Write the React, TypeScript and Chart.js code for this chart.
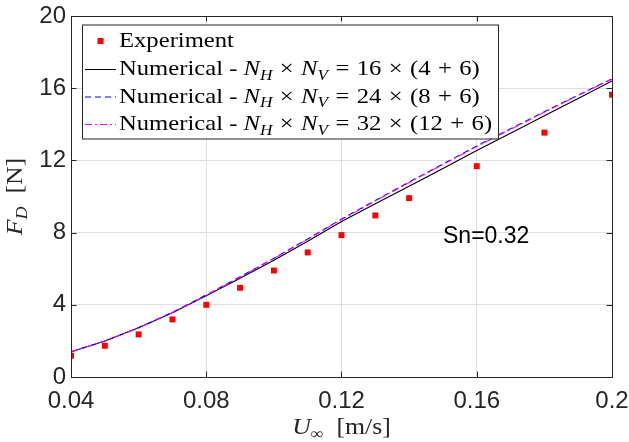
import React, { useEffect, useRef } from "react";
import { Chart, registerables } from "chart.js";

Chart.register(...registerables);

// ---- data ----
const expU = [0.04, 0.05, 0.06, 0.07, 0.08, 0.09, 0.1, 0.11, 0.12, 0.13, 0.14, 0.16, 0.18, 0.2];
const expF = [1.18, 1.73, 2.36, 3.19, 4.0, 4.94, 5.9, 6.9, 7.86, 8.95, 9.91, 11.68, 13.54, 15.64];

const numU = [0.04, 0.05, 0.06, 0.07, 0.08, 0.09, 0.1, 0.11, 0.12, 0.13, 0.14, 0.15, 0.16, 0.17, 0.18, 0.19, 0.2];
const numF16 = [1.4, 1.99, 2.73, 3.56, 4.5, 5.47, 6.47, 7.52, 8.62, 9.6, 10.57, 11.55, 12.55, 13.5, 14.47, 15.43, 16.4];
const numF24 = [1.4, 1.99, 2.74, 3.58, 4.55, 5.55, 6.58, 7.65, 8.75, 9.78, 10.8, 11.8, 12.8, 13.75, 14.7, 15.62, 16.52];
const numF32 = [1.4, 1.99, 2.73, 3.57, 4.53, 5.53, 6.56, 7.63, 8.72, 9.75, 10.77, 11.77, 12.77, 13.72, 14.67, 15.6, 16.5];

const xTickValues = [0.04, 0.08, 0.12, 0.16, 0.2];
const xTickLabels = ["0.04", "0.08", "0.12", "0.16", "0.2"];
const yTickValues = [0, 4, 8, 12, 16, 20];
const yTickLabels = ["0", "4", "8", "12", "16", "20"];

const legendExperiment = "Experiment";
const legendPrefix = "Numerical - ";
const legendMeshA = ["16", "24", "32"];
const legendMeshB = ["4", "8", "12"];
const legendMeshC = "6";
const annotationText = "Sn=0.32";

const SERIF = "'Liberation Serif', 'Times New Roman', serif";
const SANS = "'Liberation Sans', Arial, sans-serif";
const AXIS_COLOR = "#262626";

type Seg = { t: string; it?: boolean; sub?: boolean; pad?: number };

function drawSegs(ctx: CanvasRenderingContext2D, segs: Seg[], x: number, y: number, size: number, sx: number, align: "left" | "center" = "left") {
  ctx.save();
  ctx.textBaseline = "alphabetic";
  ctx.textAlign = "left";
  let w = 0;
  for (const s of segs) {
    const fs = s.sub ? size * 0.7 : size;
    ctx.font = `${s.it ? "italic " : ""}${fs}px ${SERIF}`;
    w += ctx.measureText(s.t).width + 2 * (s.pad || 0) * size;
  }
  ctx.translate(x, y);
  ctx.scale(sx, 1);
  let cx = align === "center" ? -w / 2 : 0;
  for (const s of segs) {
    const fs = s.sub ? size * 0.7 : size;
    ctx.font = `${s.it ? "italic " : ""}${fs}px ${SERIF}`;
    cx += (s.pad || 0) * size;
    ctx.fillText(s.t, cx, s.sub ? size * 0.22 : 0);
    cx += ctx.measureText(s.t).width + (s.pad || 0) * size;
  }
  ctx.restore();
}

const OP = 0.3;

const decorPlugin = {
  id: "decor",
  afterDraw(chart: any) {
    const ctx: CanvasRenderingContext2D = chart.ctx;
    const { left, right, top, bottom } = chart.chartArea;
    const xs = chart.scales.x;
    const ys = chart.scales.y;
    ctx.save();
    // box
    ctx.strokeStyle = AXIS_COLOR;
    ctx.lineWidth = 1;
    ctx.strokeRect(Math.round(left) + 0.5, Math.round(top) + 0.5, Math.round(right - left), Math.round(bottom - top));
    // inward ticks
    const tl = 5.5;
    ctx.beginPath();
    for (const v of xTickValues) {
      const px = Math.round(xs.getPixelForValue(v)) + 0.5;
      ctx.moveTo(px, bottom);
      ctx.lineTo(px, bottom - tl);
      ctx.moveTo(px, top);
      ctx.lineTo(px, top + tl);
    }
    for (const v of yTickValues) {
      const py = Math.round(ys.getPixelForValue(v)) + 0.5;
      ctx.moveTo(left, py);
      ctx.lineTo(left + tl, py);
      ctx.moveTo(right, py);
      ctx.lineTo(right - tl, py);
    }
    ctx.stroke();

    // annotation
    ctx.fillStyle = "#000";
    ctx.font = `23px ${SANS}`;
    ctx.textBaseline = "alphabetic";
    ctx.textAlign = "left";
    ctx.fillText(annotationText, 443, 243);

    // legend
    const lx = 82, ly = 24.5, lw = 416, lh = 114;
    ctx.fillStyle = "#fff";
    ctx.fillRect(lx, ly, lw, lh);
    ctx.strokeStyle = AXIS_COLOR;
    ctx.lineWidth = 1;
    ctx.strokeRect(lx + 0.5, ly + 0.5, lw, lh);
    const rowY = [41, 69, 96.5, 124];
    const textX = 119;
    const size = 22;
    const sx = 1.12;
    ctx.fillStyle = "#ff0000";
    ctx.fillRect(97.5, rowY[0] - 3, 6, 6);
    ctx.fillStyle = "#000";
    drawSegs(ctx, [{ t: legendExperiment }], textX, rowY[0] + 6, size, sx);
    const styles = [
      { c: "#000000", d: [] as number[] },
      { c: "#0000ff", d: [6, 4] },
      { c: "#ff00ff", d: [7, 3, 2, 3] },
    ];
    for (let i = 0; i < 3; i++) {
      const y = rowY[i + 1];
      ctx.strokeStyle = styles[i].c;
      ctx.setLineDash(styles[i].d);
      ctx.lineWidth = 1;
      ctx.beginPath();
      ctx.moveTo(85, y + 0.5);
      ctx.lineTo(116, y + 0.5);
      ctx.stroke();
      ctx.setLineDash([]);
      ctx.fillStyle = "#000";
      drawSegs(
        ctx,
        [
          { t: legendPrefix },
          { t: "N", it: true },
          { t: "H", it: true, sub: true },
          { t: "×", pad: OP },
          { t: "N", it: true },
          { t: "V", it: true, sub: true },
          { t: "=", pad: OP },
          { t: legendMeshA[i] },
          { t: "×", pad: OP },
          { t: "(" + legendMeshB[i] },
          { t: "+", pad: OP },
          { t: legendMeshC + ")" },
        ],
        textX,
        y + 6,
        size,
        sx
      );
    }

    // axis titles
    ctx.fillStyle = AXIS_COLOR;
    drawSegs(ctx, [{ t: "U", it: true }, { t: "∞", sub: true }, { t: "  [m/s]" }], (left + right) / 2, 434, 23, 1.12, "center");
    ctx.save();
    ctx.translate(22, (top + bottom) / 2);
    ctx.rotate(-Math.PI / 2);
    drawSegs(ctx, [{ t: "F", it: true }, { t: "D", it: true, sub: true }, { t: "  [N]" }], 0, 0, 23, 1.12, "center");
    ctx.restore();
    ctx.restore();
  },
};

export default function App() {
  const ref = useRef<HTMLCanvasElement | null>(null);
  useEffect(() => {
    document.body.style.margin = "0";
    const canvas = ref.current;
    if (!canvas) return;
    const chart = new Chart(canvas, {
      type: "scatter",
      data: {
        datasets: [
          {
            label: legendExperiment,
            data: expU.map((u, i) => ({ x: u, y: expF[i] })),
            showLine: false,
            pointStyle: "rect",
            pointRadius: 4.2,
            pointHoverRadius: 4.2,
            backgroundColor: "#ff0000",
            borderColor: "#ff0000",
            borderWidth: 0,
            order: 4,
          } as any,
          {
            label: "16",
            data: numU.map((u, i) => ({ x: u, y: numF16[i] })),
            showLine: true,
            borderColor: "#000000",
            borderWidth: 1.1,
            pointRadius: 0,
            tension: 0,
            order: 3,
          },
          {
            label: "24",
            data: numU.map((u, i) => ({ x: u, y: numF24[i] })),
            showLine: true,
            borderColor: "#0000ff",
            borderDash: [6, 4],
            borderWidth: 1.1,
            pointRadius: 0,
            tension: 0,
            order: 2,
          },
          {
            label: "32",
            data: numU.map((u, i) => ({ x: u, y: numF32[i] })),
            showLine: true,
            borderColor: "#ff00ff",
            borderDash: [7, 3, 2, 3],
            borderWidth: 1.1,
            pointRadius: 0,
            tension: 0,
            order: 1,
          },
        ],
      },
      options: {
        responsive: false,
        devicePixelRatio: 1,
        animation: false,
        layout: { padding: { top: 16, right: 17, left: 0, bottom: 0 } },
        plugins: { legend: { display: false }, tooltip: { enabled: false }, title: { display: false } },
        scales: {
          x: {
            type: "linear",
            min: 0.04,
            max: 0.2,
            afterBuildTicks: (s: any) => {
              s.ticks = xTickValues.map((v) => ({ value: v }));
            },
            afterFit: (s: any) => {
              s.height = 65;
              s.paddingLeft = 0;
              s.paddingRight = 0;
            },
            ticks: {
              autoSkip: false,
              maxRotation: 0,
              padding: 10,
              color: AXIS_COLOR,
              font: { family: SANS, size: 24 },
              callback: (_v: any, i: number) => xTickLabels[i],
            },
            grid: { color: "#dfdfdf", drawTicks: false, lineWidth: 1 },
            border: { display: false },
          },
          y: {
            type: "linear",
            min: 0,
            max: 20,
            afterBuildTicks: (s: any) => {
              s.ticks = yTickValues.map((v) => ({ value: v }));
            },
            afterFit: (s: any) => {
              s.width = 71;
              s.paddingTop = 0;
              s.paddingBottom = 0;
            },
            ticks: {
              autoSkip: false,
              padding: 5,
              color: AXIS_COLOR,
              font: { family: SANS, size: 24 },
              callback: (_v: any, i: number) => yTickLabels[i],
            },
            grid: { color: "#dfdfdf", drawTicks: false, lineWidth: 1 },
            border: { display: false },
          },
        },
      },
      plugins: [decorPlugin],
    });
    return () => chart.destroy();
  }, []);
  return (
    <div style={{ width: 629, height: 442, background: "#fff" }}>
      <canvas ref={ref} width={629} height={442} />
    </div>
  );
}
